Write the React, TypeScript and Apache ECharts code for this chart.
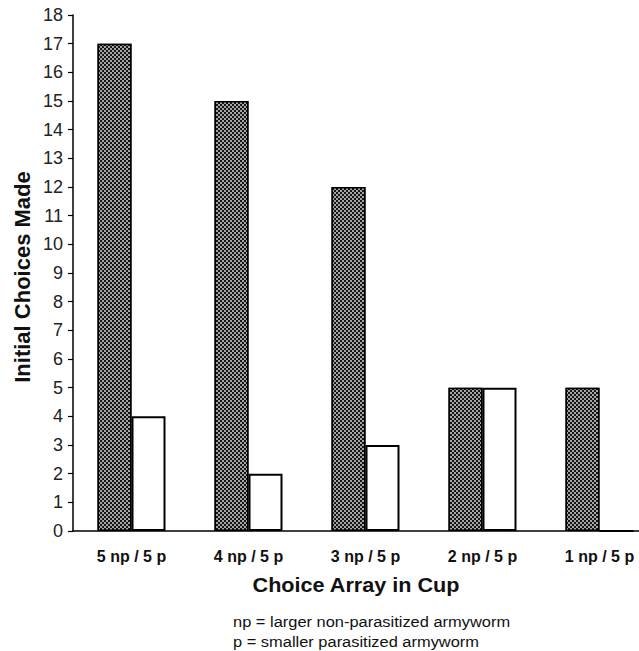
import React, { useEffect, useRef } from "react";
import * as echarts from "echarts";

const categories = ["5 np / 5 p", "4 np / 5 p", "3 np / 5 p", "2 np / 5 p", "1 np / 5 p"];
const npValues = [17, 15, 12, 5, 5];
const pValues = [4, 2, 3, 5, 0];
const yTicks = { min: 0, max: 18, interval: 1 };
const yTitle = "Initial Choices Made";
const xTitle = "Choice Array in Cup";
const notes = ["np = larger non-parasitized armyworm", "p = smaller parasitized armyworm"];

export default function App() {
  const ref = useRef<HTMLDivElement>(null);
  useEffect(() => {
    const chart = echarts.init(ref.current!, null, { renderer: "svg" });
    const font = "Arial, 'Liberation Sans', sans-serif";
    chart.setOption({
      animation: false,
      backgroundColor: "#fff",
      grid: { left: 73, top: 15, width: 585, height: 516, containLabel: false },
      xAxis: {
        type: "category",
        data: categories,
        axisLine: { lineStyle: { color: "#000", width: 1.5 } },
        axisTick: { show: false },
        axisLabel: { margin: 17, fontFamily: font, fontWeight: "bold", fontSize: 16, color: "#111" },
      },
      yAxis: {
        type: "value",
        min: yTicks.min,
        max: yTicks.max,
        interval: yTicks.interval,
        splitLine: { show: false },
        axisLine: { show: true, lineStyle: { color: "#000", width: 1.5 } },
        axisTick: { show: true, length: 5, lineStyle: { color: "#000", width: 1.2 } },
        axisLabel: { margin: 10, fontFamily: font, fontSize: 18, color: "#222" },
      },
      series: [
        {
          type: "bar",
          data: npValues,
          barWidth: 34,
          barGap: "0%",
          itemStyle: {
            color: "#161616",
            borderColor: "#000",
            borderWidth: 1.5,
            decal: {
              symbol: "rect",
              symbolSize: 0.85,
              color: "#f4f4f4",
              dashArrayX: [[1.5, 1.5], [0, 1.5, 1.5, 0]],
              dashArrayY: [1.5, 0],
              rotation: 0,
            },
          },
        },
        {
          type: "bar",
          data: pValues,
          barWidth: 34,
          barGap: "0%",
          itemStyle: { color: "#fff", borderColor: "#000", borderWidth: 2 },
        },
      ],
      graphic: [
        {
          type: "text",
          x: 22,
          y: 277,
          rotation: Math.PI / 2,
          style: {
            text: yTitle,
            fontFamily: font,
            fontWeight: "bold",
            fontSize: 22,
            fill: "#111",
            textAlign: "center",
            textVerticalAlign: "middle",
          },
        },
        {
          type: "text",
          x: 356,
          y: 585,
          scaleX: 1.03,
          style: {
            text: xTitle,
            fontFamily: font,
            fontWeight: "bold",
            fontSize: 21,
            fill: "#111",
            textAlign: "center",
            textVerticalAlign: "middle",
          },
        },
        {
          type: "text",
          x: 233,
          y: 622,
          scaleX: 1.06,
          style: { text: notes[0], fontFamily: font, fontSize: 15.5, fill: "#111", textAlign: "left", textVerticalAlign: "middle" },
        },
        {
          type: "text",
          x: 233,
          y: 642,
          scaleX: 1.06,
          style: { text: notes[1], fontFamily: font, fontSize: 15.5, fill: "#111", textAlign: "left", textVerticalAlign: "middle" },
        },
      ],
    });
    return () => chart.dispose();
  }, []);
  return (
    <div
      ref={ref}
      style={{ position: "fixed", left: 0, top: 0, width: 660, height: 651, background: "#fff" }}
    />
  );
}
